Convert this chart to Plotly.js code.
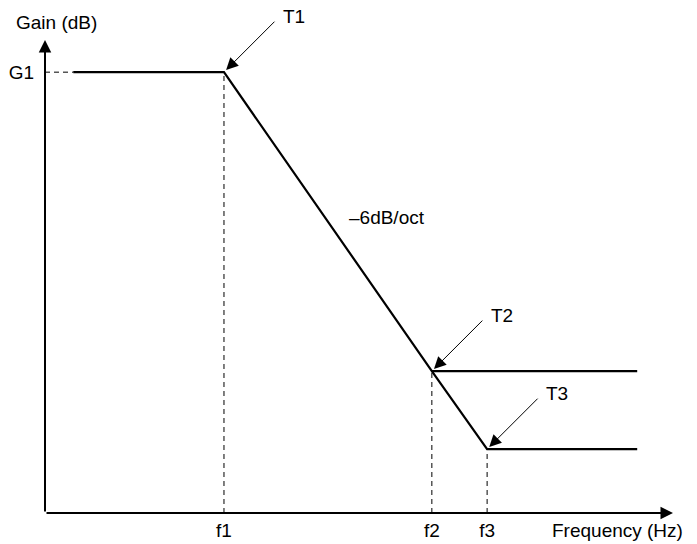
<!DOCTYPE html>
<html>
<head>
<meta charset="utf-8">
<script src="https://cdn.plot.ly/plotly-3.0.1.min.js"></script>
<style>
  html, body { margin: 0; padding: 0; background: #fff; }
  #chart { width: 697px; height: 544px; }
</style>
</head>
<body>
<div id="chart"></div>
<script>
// values (arbitrary units, axes run 0..100)
const freqLabels = ["f1", "f2", "f3"];
const freqs = [28.5, 61.6, 70.4];
const turnLabels = ["T1", "T2", "T3"];
const turnGains = [93.2, 30.0, 13.5];
const gainLabel = "G1";
const startFreq = 4.5;
const endFreq = 94.3;
const slopeText = "\u20136dB/oct";

const FONT = "Liberation Sans, Arial, Helvetica, sans-serif";

function dashedTrace(x, y) {
  return {
    type: "scatter",
    mode: "lines",
    x: x,
    y: y,
    line: { color: "#000", width: 1, dash: "5px,4px" },
    hoverinfo: "skip",
    showlegend: false
  };
}

const traces = [];

// guide lines
traces.push(dashedTrace([0, startFreq], [turnGains[0], turnGains[0]]));
freqs.forEach((f, i) => traces.push(dashedTrace([f, f], [0, turnGains[i]])));

// response curve: flat, -6dB/oct down to f3, then flat
traces.push({
  type: "scatter",
  mode: "lines",
  x: [startFreq, freqs[0], freqs[1], freqs[2], endFreq],
  y: [turnGains[0], turnGains[0], turnGains[1], turnGains[2], turnGains[2]],
  line: { color: "#000", width: 2.2 },
  hoverinfo: "skip",
  showlegend: false
});

// shelf branching off at T2
traces.push({
  type: "scatter",
  mode: "lines",
  x: [freqs[1], endFreq],
  y: [turnGains[1], turnGains[1]],
  line: { color: "#000", width: 2.2 },
  hoverinfo: "skip",
  showlegend: false
});

const annotations = [];

// axes with arrow heads
annotations.push({
  x: 100, y: 0, ax: 0, ay: 0, xref: "x", yref: "y", axref: "x", ayref: "y",
  text: "", showarrow: true, arrowhead: 2, arrowsize: 1.25, arrowwidth: 2, arrowcolor: "#000"
});
annotations.push({
  x: 0, y: 100, ax: 0, ay: 0, xref: "x", yref: "y", axref: "x", ayref: "y",
  text: "", showarrow: true, arrowhead: 2, arrowsize: 1.25, arrowwidth: 2, arrowcolor: "#000"
});

// T1..T3 pointers
turnLabels.forEach((t, i) => {
  annotations.push({
    x: freqs[i], y: turnGains[i], xref: "x", yref: "y",
    ax: 52, ay: -52, text: "", showarrow: true, standoff: 3,
    arrowhead: 2, arrowsize: 2.4, arrowwidth: 1, arrowcolor: "#000"
  });
  annotations.push({
    x: freqs[i], y: turnGains[i], xref: "x", yref: "y",
    xshift: 70, yshift: 56, text: t, showarrow: false,
    font: { family: FONT, size: 19, color: "#000" }
  });
});

annotations.push({
  x: 0.019, y: 1.036, xref: "paper", yref: "paper", xanchor: "center", yanchor: "middle",
  text: "Gain (dB)", showarrow: false,
  font: { family: FONT, size: 19, color: "#000" }
});
annotations.push({
  x: 0.912, y: -0.036, xref: "paper", yref: "paper", xanchor: "center", yanchor: "middle",
  text: "Frequency (Hz)", showarrow: false,
  font: { family: FONT, size: 19, color: "#000" }
});
annotations.push({
  x: 54.5, y: 62.4, xref: "x", yref: "y", text: slopeText, showarrow: false,
  font: { family: FONT, size: 19, color: "#000" }
});

const layout = {
  width: 697,
  height: 544,
  margin: { l: 45, r: 24, t: 40, b: 31 },
  paper_bgcolor: "#fff",
  plot_bgcolor: "#fff",
  font: { family: FONT, size: 19, color: "#000" },
  showlegend: false,
  xaxis: {
    range: [0, 100],
    showgrid: false,
    zeroline: false,
    showline: false,
    ticks: "",
    tickmode: "array",
    tickvals: freqs,
    ticktext: freqLabels,
    ticklabelstandoff: 4,
    tickfont: { family: FONT, size: 19, color: "#000" },
    fixedrange: true
  },
  yaxis: {
    range: [0, 100],
    showgrid: false,
    zeroline: false,
    showline: false,
    ticks: "",
    tickmode: "array",
    tickvals: [turnGains[0]],
    ticktext: [gainLabel],
    ticklabelstandoff: 10,
    tickfont: { family: FONT, size: 19, color: "#000" },
    fixedrange: true
  },
  annotations: annotations
};

Plotly.newPlot("chart", traces, layout, { displayModeBar: false, staticPlot: true });
</script>
</body>
</html>
